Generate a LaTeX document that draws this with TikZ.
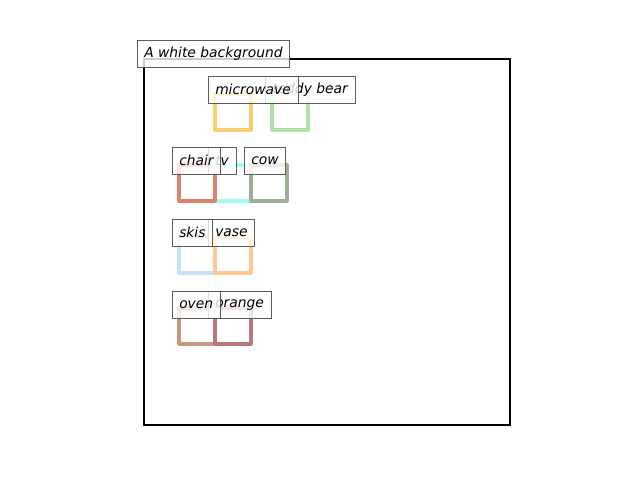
\documentclass[tikz,border=0pt]{standalone}
\usepackage{fontspec}
\setmainfont{DejaVu Sans}
\usepackage{xcolor}
\usetikzlibrary{positioning}

\definecolor{cmicro}{HTML}{F8D070}
\definecolor{cteddy}{HTML}{B0E0A8}
\definecolor{cchair}{HTML}{E08070}
\definecolor{ctv}{HTML}{A0FFF0}
\definecolor{ccow}{HTML}{A0B098}
\definecolor{cskis}{HTML}{C8E0F8}
\definecolor{cvase}{HTML}{FFC890}
\definecolor{coven}{HTML}{C89880}
\definecolor{corange}{HTML}{B87878}

\begin{document}
\begin{tikzpicture}[x=0.01in,y=-0.01in,
  lbl/.style={draw=black!75, draw opacity=0.85, fill=white, fill opacity=0.8,
    text opacity=1, font=\itshape\fontsize{10}{12}\selectfont,
    inner xsep=7*0.72pt, inner ysep=0pt, minimum height=28*0.72pt, anchor=south west},
  bx/.style={line width=2.3pt, line join=round}]
\useasboundingbox (0,0) rectangle (640,480);
% axes frame
\draw[line width=1.7pt] (144,59) rectangle (510,425);
% boxes
\foreach \c/\x/\y in {cmicro/215/94, cteddy/272/94, ctv/215/165, cchair/179/165,
    ccow/251/165, cskis/179/237, cvase/215/237, coven/179/308, corange/215/308}
  \draw[bx, draw=\c] (\x,\y) rectangle ++(36,36);
% labels
\node[lbl] (teddy) at (265,104) {teddy bear};
\node[lbl] (micro) at (208,104) {microwave};
\node[lbl] (cow) at (244,175) {cow};
\node[lbl] (tv) at (208,175) {tv};
\node[lbl] (chair) at (172,175) {chair};
\node[lbl] (vase) at (208,247) {vase};
\node[lbl] (skis) at (172,247) {skis};
\node[lbl] (orange) at (208,319) {orange};
\node[lbl] (oven) at (172,319) {oven};
\node[lbl] (title) at (137,68) {A white background};
\end{tikzpicture}
\end{document}
